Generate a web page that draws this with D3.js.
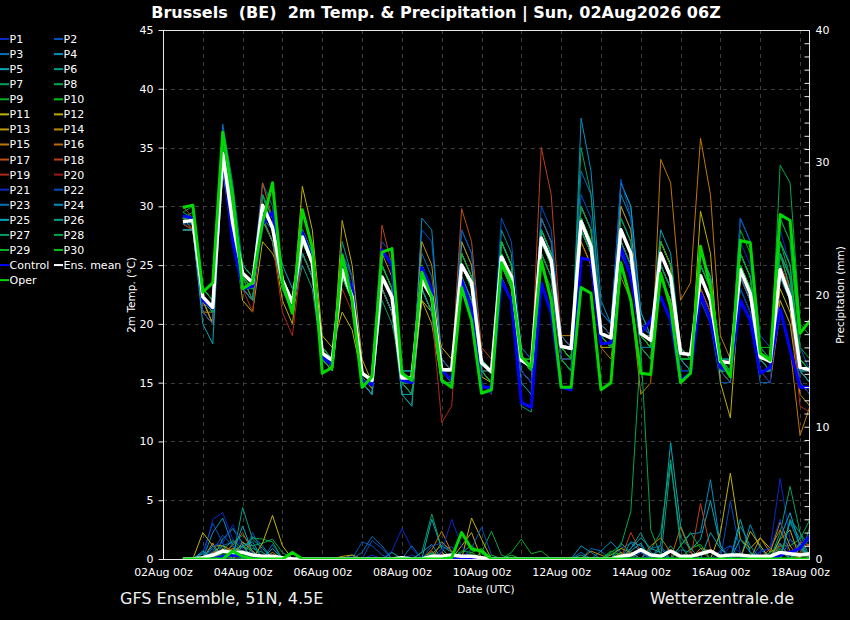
<!DOCTYPE html>
<html><head><meta charset="utf-8">
<script src="https://cdn.jsdelivr.net/npm/d3@7"></script>
<style>
body{margin:0;background:#000;}
svg{display:block;font-family:"DejaVu Sans",sans-serif;}
</style>
</head><body>
<svg id="chart" width="850" height="620"></svg>
<script>
// ---------------- DATA ----------------
const titleText = "Brussels  (BE)  2m Temp. & Precipitation | Sun, 02Aug2026 06Z";
const startTimeUTC = "2026-08-02T12:00:00Z";   // first forecast step
const stepHours = 6;
const xTickLabels = ["02Aug 00z","04Aug 00z","06Aug 00z","08Aug 00z","10Aug 00z","12Aug 00z","14Aug 00z","16Aug 00z","18Aug 00z"];
const xTickDates  = ["2026-08-02","2026-08-04","2026-08-06","2026-08-08","2026-08-10","2026-08-12","2026-08-14","2026-08-16","2026-08-18"];
const tempTicks = [0,5,10,15,20,25,30,35,40,45];
const precipLabelTicks = [0,10,20,30,40];

const memberNames = ["P1","P2","P3","P4","P5","P6","P7","P8","P9","P10","P11","P12","P13","P14","P15","P16","P17","P18","P19","P20","P21","P22","P23","P24","P25","P26","P27","P28","P29","P30"];

// 2m temperature (°C), 6-hourly
const t_P1 = [29,29,22,21, 35,28,23,23, 30,29,24,22, 28,26,18,17, 26,23,16,15, 25,23,15,14, 23,21,15,15, 24,22,16,15, 27,25,17,16, 29,27,19,18, 30,28,20,19, 27,25,18,17, 24,22,16,16, 23,21,16,16, 27,25,18,17, 28,25,17,16];
const t_P2 = [28.5,28,21,20, 33,27,23,22, 31,29,23,21, 26,24,17,16, 26,24,15,14, 27,26,16,15, 28,27,17,16, 23,21,15,14, 25,23,16,15, 30,28,19,18, 31,29,21,20, 30,28,20,19, 25,23,16,16, 22,20,15,15, 24,22,16,16, 29,27,18,16];
const t_P3 = [28,28,21,20, 37,32,25,24, 32,30,24,22, 28,26,18,17, 24,22,16,15, 25,23,16,15, 26,24,17,16, 26,24,16,15, 25,23,16,15, 28,26,18,17, 33,31,21,20, 32,30,21,19, 27,25,17,16, 25,23,17,16, 23,21,15,15, 22,20,15,14];
const t_P4 = [29,28.5,22,20, 34,30,25,24, 29,28,24,22, 27,25,18,17, 25,23,16,15, 24,22,14,13, 29,28,17,16, 28,26,17,16, 26,24,16,15, 26,24,17,16, 37.5,33,22,20, 31,29,20,19, 27,25,17,16, 24,22,16,16, 29,27,18,17, 25,23,16,15];
const t_P5 = [28,28,22,21, 34,30,24,23, 31,29,25,23, 26,24,17,16, 24,22,15,14, 23,21,14,14, 24,22,16,15, 27,25,17,16, 24,22,15,14, 28,26,18,17, 30,28,19,18, 32,30,21,19, 28,26,18,17, 23,21,16,16, 26,24,17,17, 24,22,16,15];
const t_P6 = [28.5,29,22,21, 33,29,25,24, 30,28,23,21, 25,23,17,16, 27,24,16,15, 25,23,14,13, 23,21,15,15, 26,24,16,15, 28,26,13,12.5, 26,24,17,16, 29,27,19,18, 27,25,19,18, 26,24,18,17, 24,22,17,16, 25,23,17,16, 26,24,17,16];
const t_P7 = [29,29.5,23,22, 35,30,24,22, 29,27,23,21, 27,25,18,17, 26,23,16,15, 22,20,16,16, 25,23,16,15, 25,23,16,15, 27,25,18,17, 25,23,17,17, 35,31,20,19, 26,24,18,18, 24,22,17,17, 26,24,17,16, 23,21,16,16, 27,24,17,16];
const t_P8 = [29,29,22,21, 34,29,23,23, 31,28,24,22, 28,26,18,17, 24,22,15,14, 25,23,15,15, 24,22,16,16, 24,22,16,15, 26,24,17,16, 27,25,18,18, 28,26,19,19, 29,27,20,19, 26,24,18,17, 25,23,17,17, 24,22,17,16, 33.5,32,20,19];
const t_P9 = [29.5,30,23,22, 35,30,25,24, 29,27,23,21, 26,24,17,16, 25,23,16,15, 24,22,15,15, 25,23,16,16, 24,22,16,16, 26,24,17,17, 28,26,18,18, 28,26,18,18, 29,27,19,18, 27,25,18,17, 25,23,17,17, 26,24,18,17, 26,23,16,15];
const t_P10 = [30,30,23,22, 35,31,24,23, 30,28,23,21, 28,26,18,17, 24,22,16,15, 25,23,15,14, 23,21,15,15, 25,23,16,15, 27,25,17,16, 26,24,17,16, 29,27,19,18, 28,26,19,18, 25,23,17,17, 24,22,16,16, 28,26,18,18, 25,23,16,15];
const t_P11 = [29,29,22,20, 34,28,22,21, 27,26,24,21, 31.7,28,19,18, 21,19.5,15.5,14.5, 23,21,15,15, 22,21,18,17, 23,22,15.5,15, 25,23,17,16, 27,25,18,17, 29,27,19,18, 27,25,18,17, 27,25,17,16, 29.6,26,15,12, 24,22,16,16, 23,21,15,14];
const t_P12 = [28,28,21,20, 33,29,23,22, 28.8,27,22,20, 27,25,17,16, 28.8,25,17,15, 23,21,15,14, 22,20,15,15, 25,23,16,15, 24,22,16,15, 26,24,17,17, 30,28,20,19, 27,25,19,18, 25,23,17,17, 26,24,17,16, 25,23,17,17, 26,24,16,15];
const t_P13 = [28,28,22,20, 34,29,24,23, 31,29,24,21, 26,24,17,16, 24,22,15,15, 23,21,16,15, 27,25,17,16, 26,24,17,16, 27,25,17,17, 28,26,19,18, 27,25,18,18, 30,28,20,19, 24,22,17,16, 23,21,16,15, 25,23,17,16, 22,20,14,13];
const t_P14 = [29,28,21,21, 34,28,24,23, 30,28,23,21, 27,25,18,16, 26,24,16,15, 26,24,16,16, 24,22,16,16, 27,25,17,16, 26,24,17,16, 29,27,19,19, 28,26,19,18, 28,26,19,18, 27,25,18,17, 25,23,17,16, 25,23,17,17, 24,22,16,15];
const t_P15 = [28,28,22,21, 33,29,23,22, 29,27,23,21, 26,24,17,16, 25,23,16,15, 24,22,15,15, 23,21,16,16, 24,22,16,16, 25,23,17,16, 27,25,18,17, 27,25,18,17, 24,22,14,15, 34,32,22,23.5, 35.8,31,19,17, 25,23,16,15, 21,18,10.5,13];
const t_P16 = [28.5,28,21,20, 35,30,24,23, 30,28,24,22, 27,25,17,16, 25,23,15,14, 24,22,15,15, 25,23,17,16, 25,23,16,15, 26,24,17,16, 28,26,18,17, 30,28,20,19, 28,26,19,18, 27,25,17,16, 24,22,16,16, 26,24,17,16, 26,23,16,15];
const t_P17 = [29,29,22,21, 34,29,24,22, 32,29,24,22, 27,25,18,17, 25,22,16,15, 25,23,16,15, 24,22,16,16, 29.8,27,18,17, 25,23,17,16, 27,25,18,18, 29,27,19,18, 28,26,19,18, 26,24,18,17, 24,22,17,16, 24,22,17,16, 25,22,16,16];
const t_P18 = [30,29,22,21, 33,28,23,22, 30,28,24,21, 28,26,18,17, 24,22,16,15, 28.4,25,16,15, 25,23,16,16, 26,24,17,16, 26,24,17,16, 35,31,19,18, 28,26,19,18, 27,25,19,18, 26,24,17,17, 24,22,17,16, 24,22,17,17, 25,23,16,16];
const t_P19 = [28.5,28,21,20, 34,29,23,21, 29,27,21,19, 26,24,17,16, 23,21,15,14, 24,22,15,14, 23,21,11.6,13, 25,23,16,15, 26,24,17,16, 27,25,18,17, 28,26,19,19, 27,25,19,18, 26,24,18,17, 23,21,16,15, 25,23,17,16, 24,22,13,12.5];
const t_P20 = [29,29,22,21, 34,29,24,23, 30,28,23,21, 26,24,17,16, 25,23,16,15, 24,22,15,15, 24,22,16,16, 25,23,16,16, 26,24,17,16, 27,25,18,17, 28,26,19,18, 28,26,19,19, 26,24,17,17, 25,23,17,16, 24,22,17,16, 25,23,16,15];
const t_P21 = [29,29,22,21, 36,30,24,23, 31,29,24,22, 27,25,17,16, 26,24,16,15, 24,22,15,15, 24,22,16,15, 25,23,16,16, 24,22,16,15, 26,24,17,17, 28,26,19,18, 29,27,20,19, 25,23,17,16, 24,22,16,16, 23,21,16,15, 24,22,15,14];
const t_P22 = [28,28,21,20, 34,29,23,22, 29,28,23,21, 27,25,17,16, 26,24,16,15, 26,25,16,16, 25,23,17,16, 28,26,17,16, 29,27,18,17, 27,25,18,17, 30,28,20,19, 32.3,29,20,19, 26,24,18,17, 25,23,17,16, 29,27,19,18, 26,24,16,16];
const t_P23 = [28.5,28.5,22,21, 35,30,24,23, 30,28,23,21, 26,24,18,17, 24,22,15,14, 23,21,15,15, 24,22,16,16, 25,23,16,15, 27,25,17,16, 29,27,19,18, 28,26,19,18, 27,25,18,18, 26,24,17,17, 24,22,16,15, 26,24,17,16, 26,24,16,15];
const t_P24 = [29,29,22,21, 33,28,23,22, 30,28,24,22, 28,26,18,17, 25,23,16,15, 25,23,15,14, 23,21,15,15, 24,22,16,15, 26,24,17,16, 28,26,18,17, 29,27,19,18, 28,26,19,18, 25,23,17,16, 26,24,17,17, 24,22,16,16, 27,25,17,16];
const t_P25 = [28,28,20,18.3, 34,29,24,23, 30,28,23,21, 27,25,17,16, 25,22,15,14, 24,22,15,15, 25,23,16,16, 26,24,17,16, 27,25,17,16, 28,26,18,18, 29,27,19,19, 28,26,19,18, 26,24,17,17, 25,23,17,16, 25,23,17,17, 25,22,16,15];
const t_P26 = [29,29,22,21, 34,30,24,23, 29,27,23,21, 27,25,18,17, 24,22,16,15, 24,22,16,16, 23,21,16,16, 25,23,17,16, 26,24,17,16, 27,25,18,17, 28,26,19,18, 28,26,19,18, 26,24,18,17, 24,22,17,16, 25,23,17,16, 24,22,16,16];
const t_P27 = [29,29,22,21, 35,30,24,23, 30,28,23,22, 26,24,17,17, 25,23,16,15, 25,23,15,15, 24,22,16,16, 24,22,16,15, 25,23,17,16, 27,25,18,17, 29,27,19,18, 27,25,18,17, 26,24,17,17, 24,22,16,16, 25,23,17,16, 26,23,17,16];
const t_P28 = [29.5,29,22,21, 34,29,24,22, 31,29,24,22, 27,25,17,16, 26,23,16,15, 24,22,15,14, 24,22,16,15, 25,23,16,16, 26,24,17,16, 28,26,18,17, 28,26,19,18, 29,27,19,18, 25,23,17,17, 24,22,17,16, 26,24,17,17, 26,24,17,16];
const t_P29 = [29,29,22,21, 34,29,24,23, 30,28,24,22, 28,26,18,17, 25,23,16,15, 24,22,15,15, 25,23,16,16, 26,24,17,16, 26,24,17,17, 26,24,18,17, 30,28,19,18, 28,26,19,19, 27,25,18,17, 25,23,17,16, 26,24,17,17, 29,27,18,17];
const t_P30 = [30,30,23,22, 35,30,24,23, 30,28,23,21, 27,25,17,16, 24,22,15,15, 25,23,16,15, 24,22,16,16, 25,23,16,15, 27,25,17,16, 27,25,18,17, 29,27,19,19, 28,26,19,18, 26,24,17,17, 24,22,16,16, 25,23,17,17, 27,25,17,16];
const t_Control = [29.2,29.0,22.0,21.3, 34.5,27.0,23.0,23.2, 28.5,29.5,23.5,21.4, 27.8,25.5,17.2,16.5, 25.0,23.0,15.2,14.8, 26.3,25.0,15.2,15.0, 24.8,22.9,16.1,15.2, 23.7,21.4,14.6,14.6, 23.7,22.0,13.3,12.9, 23.5,20.9,14.6,14.4, 25.6,25.4,18.3,18.4, 26.5,24.0,19.2,20.3, 22.3,20.3,15.2,15.8, 22.6,20.3,16.3,15.8, 22.0,20.3,15.8,16.3, 21.3,17.8,14.6,14.6];
const t_Mean = [28.7,28.8,22.3,21.4, 34.5,28.6,24.3,23.5, 30.1,28.2,23.7,21.8, 27.4,25.2,17.5,16.9, 24.6,22.3,15.8,15.2, 24.0,22.3,15.4,15.4, 23.7,22.3,16.1,16.1, 25.0,23.5,16.7,15.9, 25.7,24.0,16.9,16.4, 27.3,25.4,18.1,17.9, 28.7,26.6,19.2,18.8, 28.0,26.0,19.2,18.6, 26.0,24.0,17.5,17.4, 24.1,22.0,16.8,16.7, 24.6,22.6,17.2,16.8, 24.6,22.3,16.3,16.1];
const t_Oper = [29.9,30.1,22.7,23.5, 36.3,31.0,23.0,23.5, 28.6,32.0,23.5,20.9, 29.7,26.5,15.8,16.3, 25.8,22.0,14.6,15.5, 26.1,26.4,15.8,15.2, 24.4,22.3,15.2,14.6, 23.1,20.3,14.1,14.4, 25.2,23.5,17.2,16.3, 25.4,22.0,14.6,14.6, 23.1,22.6,14.4,15.0, 25.2,22.0,15.8,15.7, 24.3,21.4,15.0,15.8, 26.6,23.1,16.9,15.5, 27.1,26.9,17.5,16.9, 29.3,28.8,19.2,20.3];

// Precipitation (mm per 6 h)
const p_P1 = [0,0,0,3.0,3.5,1.5,1.0,0.5, 0,0.8,0,0,0,0,0,0, 0,0,0,0.3,0,0,0,0.3, 0,0,0,0,0,0,0,0, 0,0,0,0,0,0,0,0, 0,0,0,0,0,0.3,0.5,0, 0,0,0,0,0,0,0,0, 0,0,0.5,0.8,6.1,1.5,0,0];
const p_P2 = [0,0,0.5,2.7,1.2,0,0,2.0, 0.5,0,0,0,0,0,0,0, 0,0,1.3,1.0,0.3,0,0,0, 0,0,0.8,0.9,0.3,0,0,0, 0,0,0,0,0,0,0,0, 0,0,0,0,0,0,0,0.3, 0,0,0,0,0,0,0,4.4, 0.5,0,0,0,0,0,0,0];
const p_P3 = [0,0,0,0.8,0,0.6,1.0,0, 0,1.1,0,0,0,0,0,0, 0,0.3,0,0,0,0,0,1.0, 0,0,0,0,0,0,0,0, 0,0,0,0,0,0,0,0, 0.5,0,0,0,0.8,1.2,0.6,0, 0,0,0.7,0.5,0,0,0,0, 0,0,1.0,0,0,1.5,0.8,0];
const p_P4 = [0,0,0,2.0,3.1,1.0,0,1.7, 1.0,0,0,0,0,0,0,0, 0,0,0,0,0,0,0,0, 0.5,1.1,0,0,0,0,0,0, 0,0,0,0,0,0,0,0, 0,0,0.6,1.3,0.5,0,0,0, 0.8,0,1.0,1.9,2.0,6.0,1.0,0, 0,2.6,0.8,0,0,2.9,1.5,0];
const p_P5 = [0,0,0.4,0,1.5,2.3,1.2,1.0, 0,0,0,0,0,0,0,0, 0,0,0,0,0,0.5,0,0, 0,3.0,0.8,0,0,0,0,0, 0,0,0,0,0,0,0,0, 0,0,0,0,0,0.6,1.2,0, 1.1,8.8,2.5,0.7,1.5,4.4,1.0,0, 3.0,0.5,0,0,1.6,3.5,1.0,0];
const p_P6 = [0,0,0,0.5,1.0,0,3.9,1.5, 0.8,0,0,0,0,0,0,0, 0,0,0,0,0,0,0,0, 0,0.4,1.0,0.5,0,0,0,0, 0,0,0,0,0,0,0,0, 0,0,0,0,0,0.8,2.0,0.5, 0,1.0,0,0,0,0,0,0, 0,0,0,0,0.8,0,0,0];
const p_P7 = [0,0,0,0,0,1.2,1.8,1.0, 1.2,1.5,0.5,0,0,0,0,0, 0,0,0,0,0,0,0,0, 0.5,3.4,0.8,0,0,0,0,0, 0,0,0,0,0,0,0,0, 0,0,0,0,0.5,0,0,0.7, 2.0,7.5,1.0,0,0,0,0,0, 0,0,0,0,2.0,5.5,2.0,0.8];
const p_P8 = [0,0,0,0,0.7,1.4,0.8,1.6, 1.5,1.3,0,0,0,0,0,0, 0,0,0,0,0,0,0,0, 0,0,0,0,0,0,0.5,2.1, 0.3,0,0,0,0,0,0,0, 0,0,0,0.5,1.0,3.6,16.0,2.2, 0.3,0,0,0,0,0,0,0, 0,0,0,0.5,1.0,1.0,1.5,3.0];
const p_P9 = [0,0,0,0,0.5,0,1.0,0.6, 0,0,0,0,0,0,0,0, 0,0,0,0,0,0,0,0, 0,0,0,0,0,0.5,0.8,0, 0,0.5,1.5,0.4,0.6,0,0,0, 0,0,0,0,0.4,0,0,0, 0,0,0,0,0,0,0,0, 0.5,0,0,0,0,0,0,0];
const p_P10 = [0,0,0,0,0,0.8,0.5,0, 0.3,0,0,0,0,0,0,0, 0,0,0,0,0,0,0,0, 0,0,0,0,0.6,0.5,0,0, 0,0,0,0,0,0,0,0, 0,0,0,0,0,0,0,0, 0,0,0,0.8,1.1,0,0,0, 0,0,0,0,0,0,0,0];
const p_P11 = [0,0,2.0,1.0,1.0,0.6,0,0, 1.2,3.3,1.0,0,0,0,0,0, 0,0,0,0,0,0,0,0, 0,0,0,0,0,3.1,1.5,0, 0,0,0,0,0,0,0,0, 0,0,0,0,0,0,0,0, 0,0,0,0,0,0,2.0,6.5, 1.5,0.8,1.6,0.8,0,0,0,0];
const p_P12 = [0,0,0,1.2,0,0.8,0.6,0, 0,0,0,0,0,0,0,0, 0.2,0.3,0,0,0,0,0,0, 0,0,0,0,1.0,2.0,0,0, 0,0,0,0,0,0,0,0, 0,0,0,0.3,0.8,0.5,0,0, 0,0,0,0,0,0,0,0, 0,2.1,1.0,0,1.5,2.2,0,0];
const p_P13 = [0,0,0,0,0.8,0,1.3,0.6, 0,0.5,0,0,0,0,0,0, 0,0,0,0,0,0,0,0, 0,0,0.5,0,0,0,0,0, 0,0,0,0,0,0,0,0, 0,0,0,0,0,0.5,0,0, 0,0,0,0,0,0,0,0, 0,0,1.6,0.5,2.8,1.0,0,0];
const p_P14 = [0,0,0,0,0,0.6,1.1,0, 0,0,0,0,0,0,0,0, 0,0,0,0,0,0,0,0, 0,0,1.3,0.6,0,0,0,0, 0,0,0,0,0,0,0,0, 0,0.6,0.3,0,0.5,0,0,0, 0,0,0,0,0.8,0.6,0,0, 0,0,0,0,1.2,0,0.8,0];
const p_P15 = [0,0,0,0.5,0.7,0,0.5,0, 0,0,0,0,0,0,0,0, 0,0,0,0,0,0,0,0, 0,0.7,2.1,0.5,0,0,0,0, 0,0,0,0,0,0,0,0, 0,0,0,0,0,0,0,1.0, 1.6,0.5,0,0,0,0,0,0, 0,0,0,0.8,2.2,0.6,0,0];
const p_P16 = [0,0,0,0,0.5,0.8,0.3,0, 0,0,0,0,0,0,0,0, 0,0,0,0,0,0,0,0, 0,0.6,0,0,0,0,0,0, 0,0,0,0,0,0,0,0, 0,0,0,0,0,0,0,0, 0,0,2.4,0.5,0,0,0,0, 0,0,0,0,1.0,0.3,0,0];
const p_P17 = [0,0,0,0,0.5,1.0,2.0,0.5, 0,0,0,0,0,0,0,0, 0,0,0,0,0,0,0,0, 0,0,0,0.3,0,0,0,0, 0,0,0,0,0,0,0,0, 0,0,0,0,0.3,0.5,0,0, 0,0,0,0,0,0,0,0, 0,0,0,0,0,0,0.5,1.2];
const p_P18 = [0,0,0,0,0.3,0,0.6,0, 0,0,0,0,0,0,0,0, 0,0,0,0,0,0,0,0, 0,0,0,0,0,0,0,0, 0,0,0,0,0,0,0,0, 0,0,0,0,0,2.0,0.5,0, 0,0,0,0,4.2,0.8,0,0, 0,0,0,0,0,0,1.3,1.0];
const p_P19 = [0,0,0,0,0,0.5,0,0.3, 0,0,0,0,0,0,0,0, 0,0,0,0,0,0,0,0, 0,0,0.2,0,0,0,0,0, 0,0,0,0,0,0,0,0, 0,0,0,0,0,0,0,0, 0,0,0,0,0.6,0,0,0, 0,0,0,0,0,0,0.5,0];
const p_P20 = [0,0,0,0,0,0,0.3,0, 0,0,0,0,0,0,0,0, 0,0,0,0,0,0,0,0, 0,0,0,0,0.2,0,0,0, 0,0,0,0,0,0,0,0, 0,0,0,0,0,0.3,0,0, 0,0,0,0,0,0,0,0, 0,0,0,0,0,0,0,0.4];
const p_P21 = [0,0,0,1.0,1.2,2.6,0.8,0, 0,0,0,0,0,0,0,0, 0,0,0,0,0,0.6,2.3,0.8, 0,0,0.5,3.0,1.0,0,0,0, 0,0,0,0,0,0,0,0, 0,0,0,0,0,0,0,0, 0,0,0,0,0,0,0,1.0, 0.5,0,0.6,0.8,3.0,0,0,0];
const p_P22 = [0,0,0,0.6,1.8,1.0,0,0.5, 0,0,0,0,0,0,0,0, 0,0,0,1.4,0.8,0,0,0, 0,1.0,1.2,0.5,0,0.8,2.4,0.3, 0,0,0,0,0,0,0,0, 0,0,0,0,0,0,0.5,0, 0,0,0,0,0,0,0.6,1.0, 0,0,0,0,0,0,0,0];
const p_P23 = [0,0,0,0,1.0,1.3,0.5,0, 0,0,0,0,0,0,0,0, 0,0,0.5,1.7,1.0,0,0,0, 0,0,0,0,0,0,0,0, 0,0,0,0,0,0,0,0, 0,0.8,0.6,0,0,0,0,0.8, 1.0,0,0,0,0,0,0,0, 0,0,0,0,1.2,0,0.8,1.5];
const p_P24 = [0,0,0,1.0,0,0,1.0,1.3, 0,0,0,0,0,0,0,0, 0,0,0,0,0,0,0,0, 0,0,0,0,0,0,0,0, 0,0,0,0,0,0,0,0, 1.0,0.5,0,0,0,1.3,1.0,0, 0,0,0,0,0,0,0,0, 2.5,1.0,0,0,0,2.8,1.0,0];
const p_P25 = [0,0,0.6,0,0,0.4,2.5,0.5, 0,0.8,0,0,0,0,0,0, 0,0,0,0,0,0,0,0, 0,0,0,0,0,0,0,0, 0,0,0,0,0,0,0,0, 0,0,0,0,0,0.8,1.6,0.8, 0.5,0,0,0,0,2.0,0.8,0, 1.5,0.5,0,0,0,0,1.2,0];
const p_P26 = [0,0,0,0,0,0.6,1.0,0, 0,0,0,0,0,0,0,0, 0,0,0,0,0,0,0,0, 0,0.5,0,0,0,0,0,0, 0,0,0,0,0,0,0,0, 0.3,0,0,0,1.2,0.5,0,0, 0,7.2,1.6,0.8,0,0,0,0, 0,0,0,0,0,3.0,2.0,0];
const p_P27 = [0,0,0,0,0.5,0,0,0.8, 0.5,0,0,0,0,0,0,0, 0,0,0,0,0,0,0,0, 0,0,0,0,0.5,1.0,0.4,0, 0,0,0,0,0,0,0,0, 0,0,0,0,0,0,0.8,0.4, 0,0,0,0,0,0,0,0, 0,0,0,0,0.6,0,0,2.5];
const p_P28 = [0,0,0,0,0,0.5,0.4,0, 0,0,0,0,0,0,0,0, 0,0,0,0,0,0,0,0, 0,0.4,0,0,0,0,0,0, 0,0,0,0,0,0,0,0, 0,0,0,0.4,0,0,0,0, 0,0,1.0,2.0,0.8,0,0,0, 0,0,0,0,0.8,0,0,0];
const p_P29 = [0,0,0,0,0.4,0,0.6,0, 0,0,0,0,0,0,0,0, 0,0,0,0,0,0,0,0, 0,0,0,0,0,0,0,0.3, 0,0,0,0,0,0,0,0, 0,0,0,0.6,0.3,0,0,0, 0,0,0,0,0,0,0,0, 0,0.4,0,0.5,0,0,0,0];
const p_P30 = [0,0,0,0,0,0.3,0,0, 0,0,0,0.4,0,0,0,0, 0,0,0,0,0,0,0,0, 0,0,0,0,0,0.3,0,0, 0,0.3,0,0,0,0,0,0, 0,0,0,0,0,0,0,0, 0,0,0,0,0,0,0,0, 0,0,0,0,0,0,0.4,0];
const p_Control = [0,0,0,0,0.2,0.3,0.2,0, 0,0,0,0,0,0,0,0, 0,0,0,0,0,0,0,0, 0,0,0,0,0,0,0,0, 0,0,0,0,0,0,0,0, 0,0,0,0,0,0,0,0, 0,0,0,0,0,0,0,0, 0,0,0,0,0.3,0.5,0.8,1.8];
const p_Mean = [0,0,0.1,0.3,0.6,0.5,0.5,0.3, 0.2,0.2,0.1,0,0,0,0,0, 0,0,0,0,0,0,0.1,0, 0,0.2,0.2,0.3,0.2,0.2,0.1,0, 0,0,0,0,0,0,0,0, 0,0,0,0,0.2,0.3,0.7,0.3, 0.2,0.6,0.2,0.2,0.4,0.6,0.2,0.3, 0.3,0.2,0.2,0.2,0.5,0.4,0.3,0.4];
const p_Oper = [0,0,0,0,0,0.6,0.2,0, 0,0,0,0.5,0,0,0,0, 0,0,0,0,0,0,0,0, 0,0,0,0.1,2.0,0.75,0.6,0, 0,0,0,0,0,0,0,0, 0,0,0,0,0,0,0,0, 0,0,0,0,0,0,0,0, 0,0,0,0,0,0,0,0];

const memberColors = ["#0a28c8","#0050c0","#0070c0","#0090c0","#00a8b8","#00a088","#00a060","#00a848","#00b028","#00c010",
                      "#c0b400","#c0a800","#c09800","#c08800","#c07800","#c06800","#c05010","#c04018","#b02818","#a01818"];

// ---------------- CHART ----------------
const memberTemps = [t_P1,t_P2,t_P3,t_P4,t_P5,t_P6,t_P7,t_P8,t_P9,t_P10,t_P11,t_P12,t_P13,t_P14,t_P15,t_P16,t_P17,t_P18,t_P19,t_P20,t_P21,t_P22,t_P23,t_P24,t_P25,t_P26,t_P27,t_P28,t_P29,t_P30];
const memberPrecs = [p_P1,p_P2,p_P3,p_P4,p_P5,p_P6,p_P7,p_P8,p_P9,p_P10,p_P11,p_P12,p_P13,p_P14,p_P15,p_P16,p_P17,p_P18,p_P19,p_P20,p_P21,p_P22,p_P23,p_P24,p_P25,p_P26,p_P27,p_P28,p_P29,p_P30];
const colorOf = i => memberColors[i % 20];

const svg = d3.select("#chart");
svg.append("rect").attr("width",850).attr("height",620).attr("fill","#000");

const L = 163, R = 810, T = 30, B = 559;
const t0 = new Date(startTimeUTC).getTime();
const timeAt = i => new Date(t0 + i*stepHours*3600e3);
const x = d3.scaleUtc().domain([new Date("2026-08-02T00:00:00Z"), new Date("2026-08-18T06:00:00Z")]).range([L,R]);
const yT = d3.scaleLinear().domain([0,45]).range([B,T]);
const yP = d3.scaleLinear().domain([0,40]).range([B,T]);

// grid
const grid = svg.append("g").attr("stroke","#3c3c3c").attr("stroke-dasharray","4,4").attr("stroke-width",1);
tempTicks.filter(v=>v>0 && v<45).forEach(v=>{
  grid.append("line").attr("x1",L).attr("x2",R).attr("y1",Math.round(yT(v))+0.5).attr("y2",Math.round(yT(v))+0.5);
});
d3.utcDay.range(new Date("2026-08-03T00:00:00Z"), new Date("2026-08-18T01:00:00Z")).forEach(d=>{
  const xx = Math.round(x(d))+0.5;
  grid.append("line").attr("x1",xx).attr("x2",xx).attr("y1",T).attr("y2",B);
});

// clip
svg.append("clipPath").attr("id","plot").append("rect").attr("x",L).attr("y",T).attr("width",R-L).attr("height",B-T+1);
const plot = svg.append("g").attr("clip-path","url(#plot)");

const lineT = d3.line().x((d,i)=>x(timeAt(i))).y(d=>yT(d));
const lineP = d3.line().x((d,i)=>x(timeAt(i))).y(d=>yP(d));

memberTemps.forEach((s,k)=>{
  plot.append("path").attr("d",lineT(s)).attr("fill","none").attr("stroke",colorOf(k)).attr("stroke-width",1);
});
memberPrecs.forEach((s,k)=>{
  plot.append("path").attr("d",lineP(s)).attr("fill","none").attr("stroke",colorOf(k)).attr("stroke-width",1);
});
const specials = [
  {t:t_Control,p:p_Control,c:"#0000ff",w:3},
  {t:t_Mean,p:p_Mean,c:"#ffffff",w:3.5},
  {t:t_Oper,p:p_Oper,c:"#00d800",w:3}
];
specials.forEach(s=>{
  plot.append("path").attr("d",lineT(s.t)).attr("fill","none").attr("stroke",s.c).attr("stroke-width",s.w).attr("stroke-linejoin","round");
  plot.append("path").attr("d",lineP(s.p)).attr("fill","none").attr("stroke",s.c).attr("stroke-width",s.w).attr("stroke-linejoin","round");
});

// frame
svg.append("rect").attr("x",L+0.5).attr("y",T+0.5).attr("width",R-L-1).attr("height",B-T).attr("fill","none").attr("stroke","#e8e8e8").attr("stroke-width",1);

// left axis
const ax = svg.append("g").attr("transform",`translate(${L+0.5},0)`)
  .call(d3.axisLeft(yT).tickValues(tempTicks).tickSize(5).tickPadding(5));
ax.select(".domain").remove();
ax.selectAll("line").attr("stroke","#e8e8e8");
ax.selectAll("text").attr("fill","#fff").style("font-size","11px").style("font-family","DejaVu Sans");

// right axis (inward ticks every 1 mm)
const ar = svg.append("g").attr("transform",`translate(${R-0.5},0)`)
  .call(d3.axisRight(yP).tickValues(d3.range(0,41)).tickSize(-5).tickPadding(6).tickFormat(d=>precipLabelTicks.includes(d)?String(d):""));
ar.select(".domain").remove();
ar.selectAll("line").attr("stroke","#e8e8e8");
ar.selectAll("text").attr("fill","#fff").style("font-size","11px").style("font-family","DejaVu Sans");

// x tick labels
const xa = svg.append("g").attr("transform",`translate(0,${B})`)
  .call(d3.axisBottom(x).tickValues(xTickDates.map(d=>new Date(d+"T00:00:00Z"))).tickSize(0).tickPadding(9).tickFormat((d,i)=>xTickLabels[i]));
xa.select(".domain").remove();
xa.selectAll("text").attr("fill","#fff").style("font-size","11px").style("font-family","DejaVu Sans");

// titles
svg.append("text").attr("x",436).attr("y",18).attr("text-anchor","middle").attr("fill","#fff")
  .attr("xml:space","preserve").style("white-space","pre")
  .style("font-size","16px").style("font-weight","bold").text(titleText);
svg.append("text").attr("transform","translate(135,295) rotate(-90)").attr("text-anchor","middle").attr("fill","#fff")
  .style("font-size","10.5px").text("2m Temp. (°C)");
svg.append("text").attr("transform","translate(844,295) rotate(-90)").attr("text-anchor","middle").attr("fill","#fff")
  .style("font-size","10.5px").text("Precipitation (mm)");
svg.append("text").attr("x",486).attr("y",593).attr("text-anchor","middle").attr("fill","#fff")
  .style("font-size","10.5px").text("Date (UTC)");
svg.append("text").attr("x",120).attr("y",604).attr("fill","#eee").style("font-size","16px").text("GFS Ensemble, 51N, 4.5E");
svg.append("text").attr("x",794).attr("y",604).attr("text-anchor","end").attr("fill","#eee").style("font-size","16px").text("Wetterzentrale.de");

// legend
const legendItems = memberNames.map((n,k)=>({name:n,color:colorOf(k)}))
  .concat([{name:"Control",color:"#0000ff"},{name:"Ens. mean",color:"#ffffff"},{name:"Oper",color:"#00d800"}]);
const lg = svg.append("g");
legendItems.forEach((it,k)=>{
  const col = k%2, row = Math.floor(k/2);
  const yy = 39 + row*15.07;
  const x0 = col===0 ? 0 : 54;
  lg.append("line").attr("x1",x0).attr("x2",x0+9).attr("y1",yy).attr("y2",yy).attr("stroke",it.color).attr("stroke-width",2);
  lg.append("text").attr("x",x0+9.5).attr("y",yy+4).attr("fill","#fff").style("font-size","11px").text(it.name);
});
</script>
</body></html>
